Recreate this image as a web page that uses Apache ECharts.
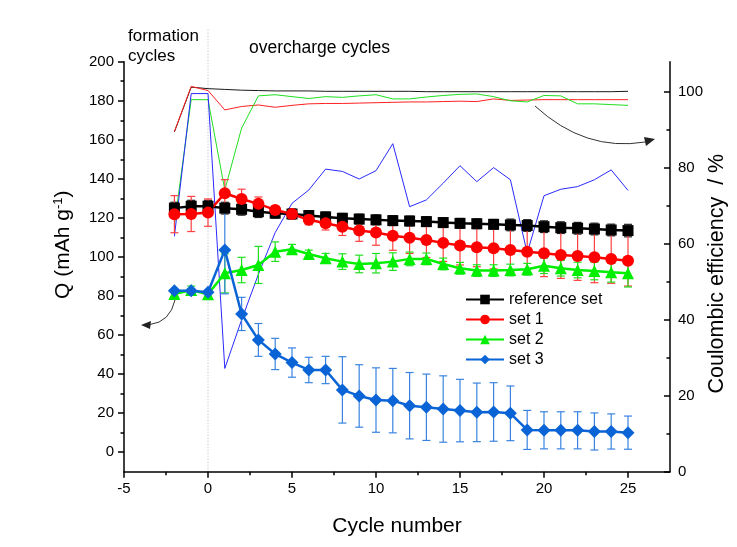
<!DOCTYPE html>
<html><head><meta charset="utf-8">
<script src="https://cdn.jsdelivr.net/npm/echarts@6/dist/echarts.min.js"></script>
<style>html,body{margin:0;padding:0;background:#fff}#c{width:737px;height:547px}</style>
</head><body><div id="c"></div>
<script>
const cycles = [-2,-1,0,1,2,3,4,5,6,7,8,9,10,11,12,13,14,15,16,17,18,19,20,21,22,23,24,25];
const refQ   = [125,126,126,125,124.4,123.2,122.4,122,121.2,120.5,119.8,119.4,119,118.6,118.4,118.1,117.6,117.2,117,116.7,116.4,116.1,115.5,115,114.7,114.3,113.8,113.5];
const refErr = [3,3,3,3,3,3,2.5,2.5,2.5,2.5,2.5,2.5,2.5,2.5,2.5,2.5,2.5,2.5,2.5,2.5,3,3,3,3,3,3,3,3.2];
const set1Q   = [121.9,122,122.7,132.6,129.7,127.2,124.1,122,119,117.3,115.5,113.5,112.5,110.9,109.8,108.7,107.2,105.9,105,104.4,103.6,102.6,101.9,101,100.5,99.8,99,98.1];
const set1Err = [9.5,9,7,7,5,3.5,2,2,2.5,3.5,4.5,5.5,6.5,7.5,8,9,9.5,10,10,10.5,11,11.5,12,12,12.5,13,12.5,13];
const set2Q   = [81,83.1,80.9,91.6,93.3,95.9,102.7,103.9,101.5,99.3,97.6,96.4,96.8,97.6,99,99,96.4,94.2,93,93,93.3,93.7,95.5,94.2,93.3,92.8,92.1,91.6];
const set2Err = [1.5,2,1.5,10,6.5,9.5,5,2.5,2,2.5,4,4.5,5,4.5,3.5,3,3,3,3,3,3,3,4,4,4,4.5,5,7];
const set3Q   = [82.7,82.7,81.9,103.6,70.8,57.5,50.3,45.9,42.1,42.1,31.9,28.8,26.7,26.4,23.8,23,22.1,21.3,20.4,20.6,19.9,11.4,11.2,11.2,11.2,10.6,10.6,10];
const set3Err = [0.5,0.5,1,22.5,8.5,8.4,8,7.5,6.5,7,17,16,16.5,16.5,17,17,17,16,15,15,14,10,9.5,9.5,9.5,9.5,9,8.5];
const refCE  = [89.5,101.3,100.9,100.7,100.5,100.4,100.3,100.3,100.3,100.2,100.2,100.2,100.2,100.2,100.2,100.1,100.1,100.1,100.1,100.1,100.1,100.1,100.1,100.1,100.1,100.1,100.1,100.2];
const set1CE = [89.6,101.5,100.4,95.3,96.2,96.6,96.0,96.5,96.9,97.0,97.0,97.1,97.2,97.3,97.4,97.4,97.5,97.6,97.5,98.2,97.8,97.9,98.0,98.0,98.0,98.0,98.0,98.0];
const set2CE = [65,98,98,74.2,90.5,99.0,99.3,98.8,98.3,98.8,98.6,99.0,99.3,98.2,98.2,98.7,99.1,99.4,99.5,98.8,97.7,97.4,99.1,99.0,96.9,96.9,96.7,96.5];
const set3CE = [62,99.6,99.6,27.2,40,52,63,70.7,74.2,79.7,79.1,77.1,79.3,86.4,69.8,71.6,76,80.6,76.4,80.1,76.9,57.6,72.7,74.4,75.1,76.9,79.5,74.1];
const seriesNames = ['reference set','set 1','set 2','set 3'];
const xTicks  = [-5,0,5,10,15,20,25];
const xMinor  = [-2.5,2.5,7.5,12.5,17.5,22.5];
const qTicks  = [0,20,40,60,80,100,120,140,160,180,200];
const qMinor  = [10,30,50,70,90,110,130,150,170,190];
const ceTicks = [0,20,40,60,80,100];
const ceMinor = [10,30,50,70,90];
const markerLine = [0];

const FONT = 'Arial, "Liberation Sans", sans-serif';
const chart = echarts.init(document.getElementById('c'), null, {renderer:'canvas'});

function pts(v){ return cycles.map((c,i)=>[c,v[i]]); }
function errs(v,e){ return cycles.map((c,i)=>[c,v[i]-e[i],v[i]+e[i]]); }
function errRender(color){
  return function(params, api){
    const x = api.value(0), lo = api.value(1), hi = api.value(2);
    const a = api.coord([x, lo]), b = api.coord([x, hi]);
    const hw = 4;
    const st = {stroke:color, lineWidth:1.2};
    return {type:'group', children:[
      {type:'line', shape:{x1:a[0],y1:a[1],x2:b[0],y2:b[1]}, style:st},
      {type:'line', shape:{x1:a[0]-hw,y1:a[1],x2:a[0]+hw,y2:a[1]}, style:st},
      {type:'line', shape:{x1:b[0]-hw,y1:b[1],x2:b[0]+hw,y2:b[1]}, style:st}
    ]};
  };
}
function errSeries(v,e,color){
  return {type:'custom', xAxisIndex:0, yAxisIndex:0, data:errs(v,e), encode:{x:0,y:[1,2]},
    renderItem:errRender(color), z:3, silent:true};
}
function ceSeries(v,color){
  return {type:'line', xAxisIndex:0, yAxisIndex:2, data:pts(v), showSymbol:false, symbol:'none',
    lineStyle:{color:color,width:1}, z:1, silent:true};
}
function mainSeries(name,v,color,symbol,size){
  return {name:name, type:'line', xAxisIndex:0, yAxisIndex:0, data:pts(v), symbol:symbol, symbolSize:size,
    itemStyle:{color:color}, lineStyle:{color:color,width:2.5}, z:5};
}
const lineOn = {show:true, onZero:false, lineStyle:{color:'#000',width:1.5}};
const lineOff = {show:false, onZero:false};

chart.setOption({
  backgroundColor:'#fff',
  animation:false,
  textStyle:{fontFamily:FONT},
  grid:{left:124, right:67, top:61.7, bottom:75.3, containLabel:false, outerBoundsMode:'none'},
  legend:{orient:'vertical', left:465, top:291.5, padding:0, itemWidth:38, itemHeight:12, itemGap:4,
    data:seriesNames, textStyle:{fontSize:16, color:'#000', fontFamily:FONT}},
  xAxis:[
    {type:'value', min:-5, max:27.5, position:'bottom', axisLine:lineOn, splitLine:{show:false},
      axisTick:{show:true, inside:false, length:6, customValues:xTicks, lineStyle:{color:'#000',width:1.5}},
      axisLabel:{customValues:xTicks, fontSize:15, color:'#000', margin:10, fontFamily:FONT},
      name:'Cycle number', nameLocation:'middle', nameGap:44,
      nameTextStyle:{fontSize:21, color:'#000', fontFamily:FONT}},
    {type:'value', min:-5, max:27.5, position:'bottom', axisLine:lineOff, splitLine:{show:false},
      axisTick:{show:true, length:3.5, customValues:xMinor, lineStyle:{color:'#000',width:1.5}},
      axisLabel:{show:false}}
  ],
  yAxis:[
    {type:'value', min:-10, max:200, position:'left', axisLine:lineOn, splitLine:{show:false},
      axisTick:{show:true, inside:false, length:6, customValues:qTicks, lineStyle:{color:'#000',width:1.5}},
      axisLabel:{customValues:qTicks, fontSize:15, color:'#000', margin:10, fontFamily:FONT},
      name:'Q (mAh g{sup|-1})', nameLocation:'middle', nameGap:49, nameRotate:90,
      nameTextStyle:{fontSize:21, color:'#000', fontFamily:FONT, padding:[0,0,0,44],
        rich:{sup:{fontSize:13, color:'#000', padding:[0,0,10,0], fontFamily:FONT}}}},
    {type:'value', min:-10, max:200, position:'left', axisLine:lineOff, splitLine:{show:false},
      axisTick:{show:true, length:3.5, customValues:qMinor, lineStyle:{color:'#000',width:1.5}},
      axisLabel:{show:false}},
    {type:'value', min:0, max:108, position:'right', axisLine:lineOn, splitLine:{show:false},
      axisTick:{show:true, inside:true, length:6, customValues:ceTicks, lineStyle:{color:'#000',width:1.5}},
      axisLabel:{customValues:ceTicks, fontSize:15, color:'#000', margin:8, fontFamily:FONT},
      name:'Coulombic efficiency  / %', nameLocation:'middle', nameGap:36, nameRotate:90, nameMoveOverlap:false,
      nameTextStyle:{fontSize:21.5, color:'#000', fontFamily:FONT, padding:[0,14,0,0]}},
    {type:'value', min:0, max:108, position:'right', axisLine:lineOff, splitLine:{show:false},
      axisTick:{show:true, inside:true, length:3.5, customValues:ceMinor, lineStyle:{color:'#000',width:1.5}},
      axisLabel:{show:false}}
  ],
  series:[
    {type:'custom', xAxisIndex:0, yAxisIndex:0, data:markerLine.map(v=>[v]), clip:false, silent:true, z:0,
      encode:{x:0},
      renderItem:function(params, api){
        const x = api.value(0);
        const a = api.coord([x,-10]), b = api.coord([x,217]);
        return {type:'line', shape:{x1:a[0],y1:a[1],x2:b[0],y2:b[1]},
          style:{stroke:'#aab4c6', lineWidth:1, lineDash:[1,2]}};
      }},
    ceSeries(refCE,'#1a1a1a'),
    ceSeries(set1CE,'#ff2020'),
    ceSeries(set2CE,'#20e020'),
    ceSeries(set3CE,'#2a2aff'),
    errSeries(refQ,refErr,'#222'),
    errSeries(set1Q,set1Err,'#ff4040'),
    errSeries(set2Q,set2Err,'#20e020'),
    errSeries(set3Q,set3Err,'#3a84e0'),
    mainSeries(seriesNames[0],refQ,'#000000','rect',11),
    mainSeries(seriesNames[1],set1Q,'#ff0000','circle',12),
    mainSeries(seriesNames[2],set2Q,'#00ee00','triangle',12),
    mainSeries(seriesNames[3],set3Q,'#0a64d6','diamond',13)
  ],
  graphic:[
    {type:'text', left:128, top:28, style:{text:'formation', fontSize:17, fill:'#000', fontFamily:FONT}},
    {type:'text', left:128, top:48, style:{text:'cycles', fontSize:17, fill:'#000', fontFamily:FONT}},
    {type:'text', left:249, top:39, style:{text:'overcharge cycles', fontSize:17.5, fill:'#000', fontFamily:FONT}},
    {type:'bezierCurve', shape:{x1:175,y1:300,cpx1:170,cpy1:322,x2:150,y2:324.5}, style:{stroke:'#333',lineWidth:1,fill:null}},
    {type:'polygon', shape:{points:[[141,325],[151,321],[150,329]]}, style:{fill:'#222'}},
    {type:'bezierCurve', shape:{x1:535,y1:106,cpx1:585,cpy1:152,x2:645,y2:142}, style:{stroke:'#333',lineWidth:1,fill:null}},
    {type:'polygon', shape:{points:[[655,139],[644,137],[646,146]]}, style:{fill:'#222'}}
  ]
});
</script></body></html>
